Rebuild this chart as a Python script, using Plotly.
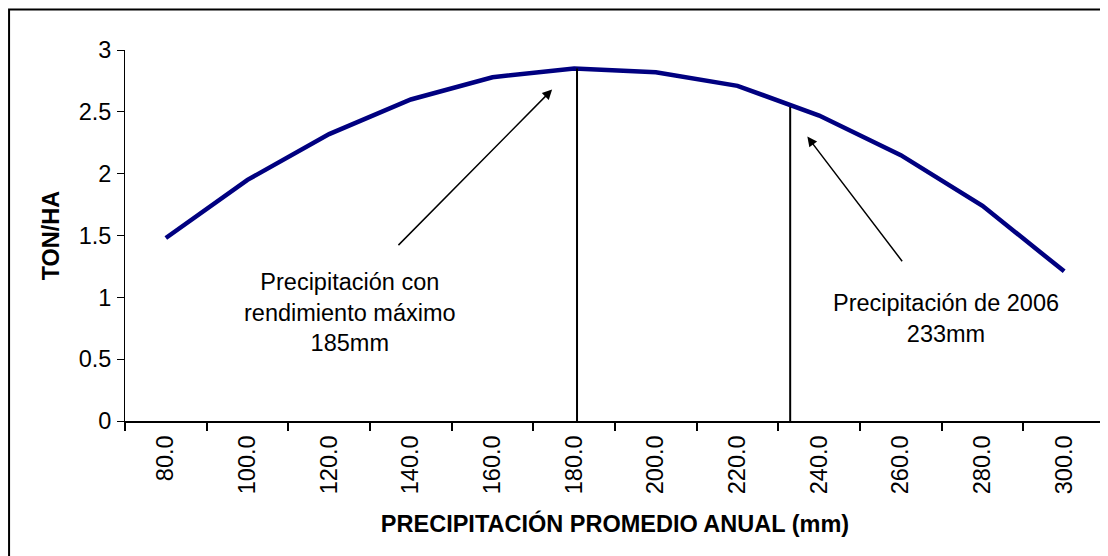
import plotly.graph_objects as go

# ---- data ----
precip_mm = [80, 100, 120, 140, 160, 180, 200, 220, 240, 260, 280, 300]
precip_labels = ["80.0", "100.0", "120.0", "140.0", "160.0", "180.0",
                 "200.0", "220.0", "240.0", "260.0", "280.0", "300.0"]
ton_ha = [1.48, 1.95, 2.32, 2.60, 2.78, 2.85, 2.82, 2.71, 2.47, 2.15, 1.74, 1.21]

# reference lines (max yield, 2006 rainfall)
ref_x = [180.7, 232.9]
ref_top = [2.85, 2.54]

# arrows: (tail_x, tail_y, head_x, head_y)
arrows = [(136.6, 1.41, 174.6, 2.68), (260.6, 1.28, 237.1, 2.30)]

y_ticks = [0, 0.5, 1, 1.5, 2, 2.5, 3]
y_ticklabels = ["0", "0.5", "1", "1.5", "2", "2.5", "3"]
cat_edges = [70 + 20 * i for i in range(13)]

FONT = "Liberation Sans, Arial, sans-serif"
FS = 23.5

fig = go.Figure()
fig.add_trace(go.Scatter(x=precip_mm, y=ton_ha, mode="lines",
                         line=dict(color="#000080", width=4.5),
                         showlegend=False, hoverinfo="skip"))
for xv, top in zip(ref_x, ref_top):
    fig.add_trace(go.Scatter(x=[xv, xv], y=[0, top], mode="lines",
                             line=dict(color="black", width=2),
                             showlegend=False, hoverinfo="skip"))

annotations = []
for tx, ty, hx, hy in arrows:
    annotations.append(dict(x=hx, y=hy, ax=tx, ay=ty, xref="x", yref="y",
                            axref="x", ayref="y", text="", showarrow=True,
                            arrowhead=2, arrowsize=1.3, arrowwidth=1.5,
                            arrowcolor="black", standoff=0, startstandoff=0))
annotations.append(dict(x=0.2295, y=0.2925, xref="paper", yref="paper",
                        text="Precipitación con<br>rendimiento máximo<br>185mm",
                        showarrow=False, xanchor="center", yanchor="middle",
                        align="center", font=dict(family=FONT, size=FS, color="black")))
annotations.append(dict(x=0.8373, y=0.2763, xref="paper", yref="paper",
                        text="Precipitación de 2006<br>233mm",
                        showarrow=False, xanchor="center", yanchor="middle",
                        align="center", font=dict(family=FONT, size=FS, color="black")))

# page body has an 8px default margin -> figure sized/offset to compensate
fig.update_layout(
    width=1100, height=548,
    margin=dict(l=117, r=2.5, t=42, b=135),
    paper_bgcolor="white", plot_bgcolor="white",
    font=dict(family=FONT, size=FS, color="black"),
    annotations=annotations,
    shapes=[dict(type="rect", xref="paper", yref="paper",
                 x0=-0.1183, x1=1.02, y0=-0.5, y1=1.1092,
                 line=dict(color="black", width=2), fillcolor="rgba(0,0,0,0)",
                 layer="below")],
    xaxis=dict(range=[70, 310], tickmode="array", tickvals=precip_mm,
               ticktext=precip_labels, tickangle=-90,
               ticks="outside", ticklen=3, tickcolor="rgba(0,0,0,0)",
               showline=True, linecolor="black", linewidth=2,
               showgrid=False, zeroline=False, automargin=False,
               tickfont=dict(family=FONT, size=FS),
               minor=dict(tickvals=cat_edges, ticks="outside", ticklen=8,
                          tickcolor="black", tickwidth=1.5, showgrid=False),
               title=dict(text="<b>PRECIPITACIÓN PROMEDIO ANUAL (mm)</b>",
                          font=dict(family=FONT, size=FS), standoff=22)),
    yaxis=dict(range=[0, 3], tickmode="array", tickvals=y_ticks,
               ticktext=y_ticklabels, ticks="outside", ticklen=7,
               tickcolor="black", tickwidth=1, ticklabelstandoff=1,
               showline=True, linecolor="black", linewidth=1,
               showgrid=False, zeroline=False, automargin=False,
               tickfont=dict(family=FONT, size=FS),
               title=dict(text="<b>TON/HA</b>",
                          font=dict(family=FONT, size=FS), standoff=12)),
)

fig.write_html("out.html")
